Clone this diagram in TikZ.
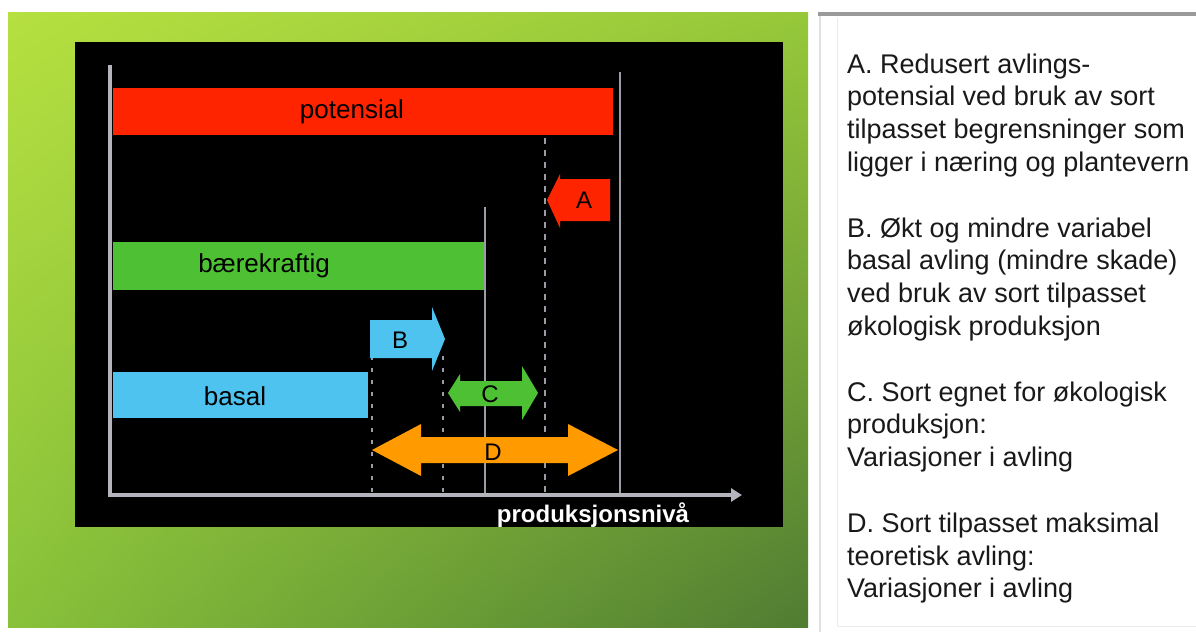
\documentclass[tikz,border=0pt]{standalone}
\usepackage{fontspec}
\setmainfont{Liberation Sans}
\usetikzlibrary{arrows.meta,shadings}
\definecolor{potred}{HTML}{FF2400}
\definecolor{susgreen}{HTML}{4EC034}
\definecolor{basblue}{HTML}{4EC3F0}
\definecolor{dorange}{HTML}{FF9A00}
\definecolor{gridgray}{HTML}{9C9CA6}
\definecolor{axisgray}{HTML}{B4B4BC}
\definecolor{panelgray}{HTML}{9A9A9A}
\definecolor{gul}{HTML}{B6E040}
\definecolor{gur}{HTML}{96C83A}
\definecolor{gll}{HTML}{88C23A}
\definecolor{glr}{HTML}{507C32}
\tikzset{
  barbox/.style={rectangle, inner sep=0pt, anchor=north west},
  barlabel/.style={font=\fontsize{26}{30}\selectfont, text=black, inner sep=0pt},
  arrlabel/.style={font=\fontsize{24}{28}\selectfont, text=black, inner sep=0pt},
  gridline/.style={gridgray, line width=1.6pt},
  dashline/.style={gridgray, line width=1.6pt, dash pattern=on 6pt off 6pt},
  dotline/.style={gridgray, line width=1.6pt, dash pattern=on 4pt off 8pt},
  axisline/.style={axisgray, line width=3.5pt},
  legend/.style={anchor=base west, align=left, inner sep=0pt, text=black!90,
    font=\fontsize{27}{32.8}\selectfont},
}
\begin{document}
\begin{tikzpicture}[x=1pt,y=-1pt]
\useasboundingbox (0,0) rectangle (1196,632);
\fill[white] (0,0) rectangle (1196,632);
% green panel
\shade[upper left=gul, upper right=gur, lower left=gll, lower right=glr]
  (8,12) rectangle (808,627);
% black chart area
\fill[black] (75,42) rectangle (783,527);
% right panel
\draw[panelgray, line width=4pt] (818,14) -- (1196,14);
\draw[black!12, line width=1.5pt] (820,16) -- (820,632);
\draw[black!8, line width=1pt] (837,18) -- (837,626) -- (1196,626);
% grid lines
\coordinate (g1t) at (620,72);  \coordinate (g1b) at (620,493);
\coordinate (g2t) at (545,90);  \coordinate (g2b) at (545,493);
\coordinate (g3t) at (485,207); \coordinate (g3b) at (485,493);
\coordinate (g4t) at (443,356); \coordinate (g4b) at (443,493);
\coordinate (g5t) at (372,356); \coordinate (g5b) at (372,493);
\draw[gridline] (g1t) -- (g1b);
\draw[dashline] (g2t) -- (g2b);
\draw[gridline] (g3t) -- (g3b);
\draw[dotline] (g4t) -- (g4b);
\draw[dotline] (g5t) -- (g5b);
% bars
\node[barbox, fill=potred, minimum width=500pt, minimum height=47pt] (pot) at (113,88) {};
\node[barlabel] (potl) at (352,112) {potensial};
\node[barbox, fill=susgreen, minimum width=371pt, minimum height=48pt] (sus) at (113,242) {};
\node[barlabel] (susl) at (264,266) {bærekraftig};
\node[barbox, fill=basblue, minimum width=255pt, minimum height=46pt] (bas) at (113,372) {};
\node[barlabel] (basl) at (235,396) {basal};
% axes
\coordinate (yt) at (110,65);
\coordinate (o) at (110,495);
\coordinate (xe) at (742,495);
\draw[axisline, -{Triangle[length=11pt,width=13pt]}] (yt) -- (o) -- (xe);
\node[font=\bfseries\fontsize{24}{28}\selectfont, text=white, anchor=base, inner sep=0pt]
  (xl) at (593,522) {produksjonsnivå};
% arrow A (left pointing)
\fill[potred] (547,200) -- (560,174) -- (560,179) -- (610,179) -- (610,221)
  -- (560,221) -- (560,228) -- cycle;
\node[arrlabel] (la) at (584,200) {A};
% arrow B (right pointing)
\fill[basblue] (370,320) -- (432,320) -- (432,307) -- (445,339) -- (432,371)
  -- (432,358) -- (370,358) -- cycle;
\node[arrlabel] (lb) at (400,340) {B};
% arrow C (double)
\fill[susgreen] (448,393) -- (460,374) -- (460,381) -- (522,381) -- (522,366)
  -- (538,393) -- (522,420) -- (522,406) -- (460,406) -- (460,412) -- cycle;
\node[arrlabel] (lc) at (490,394) {C};
% arrow D (double)
\fill[dorange] (372,450) -- (421,424) -- (421,437) -- (568,437) -- (568,424)
  -- (618,450) -- (568,476) -- (568,463) -- (421,463) -- (421,476) -- cycle;
\node[arrlabel] (ld) at (493,452) {D};
% legend text (anchor = baseline of last line)
\node[legend] (ta) at (847,171.4) {A. Redusert avlings-\\potensial ved bruk av sort\\tilpasset begrensninger som\\ligger i næring og plantevern};
\node[legend] (tb) at (847,335.4) {B. Økt og mindre variabel\\basal avling (mindre skade)\\ved bruk av sort tilpasset\\økologisk produksjon};
\node[legend] (tc) at (847,466.6) {C. Sort egnet for økologisk\\produksjon:\\Variasjoner i avling};
\node[legend] (td) at (847,597.8) {D. Sort tilpasset maksimal\\teoretisk avling:\\Variasjoner i avling};
\end{tikzpicture}
\end{document}
